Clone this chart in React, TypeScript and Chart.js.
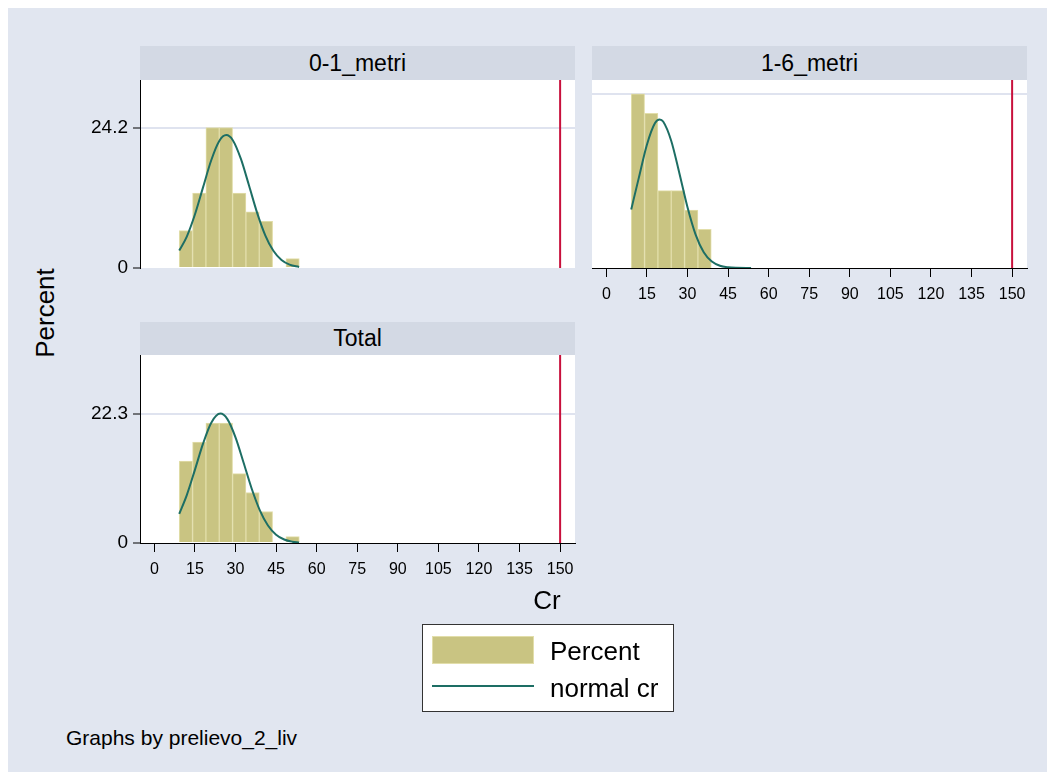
import React, { useEffect, useRef } from "react";
import { Chart, registerables } from "chart.js";

Chart.register(...registerables);

// ---------- data ----------
const binCenters = [11.67, 16.6, 21.53, 26.46, 31.39, 36.32, 41.25, 46.18, 51.11];
const pct01: (number | null)[] = [6.45, 12.9, 24.19, 24.19, 12.9, 9.68, 8.06, null, 1.61];
const pct16: (number | null)[] = [30.0, 26.67, 13.33, 13.33, 10.0, 6.67, null, null, null];
const pctTotal: (number | null)[] = [14.13, 17.39, 20.65, 20.65, 11.96, 8.7, 5.43, null, 1.09];

const curveX01 = [9.2, 12, 15, 18, 21, 24, 26.6, 29, 32, 35, 38, 41, 44, 47, 50, 53.5];
const curveY01 = [3.0, 5.42, 9.22, 13.89, 18.52, 21.88, 22.9, 22.03, 18.8, 14.21, 9.51, 5.64, 2.96, 1.37, 0.57, 0.17];

const curveX16 = [9.2, 12, 15, 18, 19.7, 21, 24, 27, 30, 33, 36, 39, 42, 45, 48, 53.5];
const curveY16 = [10.1, 15.53, 21.25, 24.98, 25.6, 25.24, 21.9, 16.33, 10.47, 5.76, 2.72, 1.11, 0.39, 0.12, 0.03, 0.0];

const curveXTotal = [9.2, 12, 15, 18, 21, 24.4, 27, 30, 33, 36, 39, 42, 45, 48, 51, 53.5];
const curveYTotal = [5.02, 8.26, 12.61, 17.12, 20.7, 22.3, 21.35, 18.21, 13.83, 9.35, 5.63, 3.02, 1.44, 0.61, 0.23, 0.09];

const xTickValues = [0, 15, 30, 45, 60, 75, 90, 105, 120, 135, 150];
const yTicks01 = [0, 24.2];
const yTicks16 = [30];
const yTicksTotal = [0, 22.3];
const refLineX = 150;
const yMax = 32.4;
const xMin = -5.3;
const xMax = 155.5;

const panelTitles = ["0-1_metri", "1-6_metri", "Total"];
const legendLabels = ["Percent", "normal cr"];
const yTitle = "Percent";
const xTitle = "Cr";
const note = "Graphs by prelievo_2_liv";

// ---------- style ----------
const FONT = "'Liberation Sans', Arial, Helvetica, sans-serif";
const BG = "#e1e6f0";
const STRIP = "#d3d9e4";
const GRID = "#dfe3ef";
const KHAKI = "#c9c482";
const KHAKI_EDGE = "#e2deaa";
const TEAL = "#1d6e64";
const RED = "#c8103c";

Chart.defaults.font.family = FONT;

const plotBg = {
  id: "plotBg",
  beforeDraw(chart: any) {
    const { ctx, chartArea: a } = chart;
    ctx.save();
    ctx.fillStyle = "#ffffff";
    ctx.fillRect(a.left, a.top, a.right - a.left, a.bottom - a.top);
    ctx.restore();
  },
};

type PanelProps = {
  left: number;
  top: number;
  width: number;
  height: number;
  padding: { top: number; right: number; bottom: number; left: number };
  yAxisWidth: number;
  showX: boolean;
  showYLabels: boolean;
  showYBorder: boolean;
  yTicks: number[];
  bars: (number | null)[];
  cx: number[];
  cy: number[];
};

function HistPanel(p: PanelProps) {
  const ref = useRef<HTMLCanvasElement>(null);
  useEffect(() => {
    const chart = new Chart(ref.current as HTMLCanvasElement, {
      type: "bar",
      data: {
        datasets: [
          {
            type: "line",
            label: legendLabels[1],
            data: p.cx.map((x, i) => ({ x, y: p.cy[i] })),
            borderColor: TEAL,
            borderWidth: 2,
            pointRadius: 0,
            cubicInterpolationMode: "monotone",
            fill: false,
            order: 0,
          } as any,
          {
            type: "line",
            label: "xline",
            data: [
              { x: refLineX, y: 0 },
              { x: refLineX, y: yMax },
            ],
            borderColor: RED,
            borderWidth: 2,
            pointRadius: 0,
            fill: false,
            order: 1,
          } as any,
          {
            type: "bar",
            label: legendLabels[0],
            data: binCenters.map((x, i) => ({ x, y: p.bars[i] })),
            backgroundColor: KHAKI,
            borderColor: KHAKI_EDGE,
            borderWidth: 1,
            barPercentage: 1,
            categoryPercentage: 1,
            order: 2,
          } as any,
        ],
      },
      options: {
        animation: false,
        responsive: false,
        maintainAspectRatio: false,
        layout: { padding: p.padding },
        plugins: { legend: { display: false }, tooltip: { enabled: false } },
        scales: {
          x: {
            type: "linear",
            min: xMin,
            max: xMax,
            offset: false,
            display: p.showX,
            afterBuildTicks: (s: any) => {
              s.ticks = xTickValues.map((v) => ({ value: v }));
            },
            ticks: {
              font: { size: 16 },
              color: "#000",
              padding: 8,
              maxRotation: 0,
              autoSkip: false,
              callback: (v: any) => String(v),
            },
            grid: {
              offset: false,
              drawOnChartArea: false,
              drawTicks: true,
              tickLength: 9,
              tickColor: "#000",
              tickWidth: 1,
            },
            border: { display: true, color: "#000", width: 1 },
            afterFit: (s: any) => {
              s.height = p.showX ? 40 : 0;
            },
          },
          y: {
            type: "linear",
            min: 0,
            max: yMax,
            afterBuildTicks: (s: any) => {
              s.ticks = p.yTicks.map((v) => ({ value: v }));
            },
            ticks: {
              display: p.showYLabels,
              font: { size: 19 },
              color: "#000",
              padding: 5,
              callback: (v: any) => String(v),
            },
            grid: {
              color: (ctx: any) =>
                ctx.tick && ctx.tick.value === 0 ? "rgba(0,0,0,0)" : GRID,
              lineWidth: 2,
              drawTicks: p.showYLabels,
              tickLength: 7,
              tickColor: "#000",
              tickWidth: 1,
            },
            border: { display: p.showYBorder, color: "#000", width: 1 },
            afterFit: (s: any) => {
              s.width = p.yAxisWidth;
            },
          },
        },
      } as any,
      plugins: [plotBg],
    });
    return () => chart.destroy();
  }, []);
  return (
    <canvas
      ref={ref}
      width={p.width}
      height={p.height}
      style={{
        position: "absolute",
        left: p.left,
        top: p.top,
        width: p.width,
        height: p.height,
      }}
    />
  );
}

function Strip({ x, y, w, h, text }: { x: number; y: number; w: number; h: number; text: string }) {
  return (
    <div
      style={{
        position: "absolute",
        left: x,
        top: y,
        width: w,
        height: h,
        background: STRIP,
        display: "flex",
        alignItems: "center",
        justifyContent: "center",
        fontSize: 23,
        color: "#000",
      }}
    >
      {text}
    </div>
  );
}

function Label({ x, y, text, size, rotate }: { x: number; y: number; text: string; size: number; rotate?: boolean }) {
  return (
    <div
      style={{
        position: "absolute",
        left: x,
        top: y,
        transform: `translate(-50%, -50%)${rotate ? " rotate(-90deg)" : ""}`,
        fontSize: size,
        whiteSpace: "nowrap",
        lineHeight: 1,
        color: "#000",
      }}
    >
      {text}
    </div>
  );
}

export default function App() {
  return (
    <div
      style={{
        position: "relative",
        width: 1047,
        height: 764,
        background: BG,
        overflow: "hidden",
        fontFamily: FONT,
      }}
    >
      <div style={{ position: "absolute", left: -8, top: -8, width: 1055, height: 772 }}>
        <Strip x={140} y={46} w={435} h={34} text={panelTitles[0]} />
        <Strip x={592} y={46} w={435} h={34} text={panelTitles[1]} />
        <Strip x={140} y={322} w={435} h={33} text={panelTitles[2]} />

        <HistPanel
          left={60}
          top={60}
          width={535}
          height={228}
          padding={{ top: 20, right: 20, bottom: 20, left: 0 }}
          yAxisWidth={80}
          showX={false}
          showYLabels={true}
          showYBorder={true}
          yTicks={yTicks01}
          bars={pct01}
          cx={curveX01}
          cy={curveY01}
        />
        <HistPanel
          left={572}
          top={60}
          width={475}
          height={258}
          padding={{ top: 20, right: 20, bottom: 10, left: 20 }}
          yAxisWidth={0}
          showX={true}
          showYLabels={false}
          showYBorder={false}
          yTicks={yTicks16}
          bars={pct16}
          cx={curveX16}
          cy={curveY16}
        />
        <HistPanel
          left={60}
          top={335}
          width={535}
          height={258}
          padding={{ top: 20, right: 20, bottom: 10, left: 0 }}
          yAxisWidth={80}
          showX={true}
          showYLabels={true}
          showYBorder={true}
          yTicks={yTicksTotal}
          bars={pctTotal}
          cx={curveXTotal}
          cy={curveYTotal}
        />

        <Label x={45} y={313} text={yTitle} size={26} rotate />
        <Label x={547} y={600} text={xTitle} size={26} />

        <div
          style={{
            position: "absolute",
            left: 422,
            top: 624,
            width: 252,
            height: 88,
            boxSizing: "border-box",
            background: "#fff",
            border: "1px solid #333",
          }}
        />
        <div
          style={{
            position: "absolute",
            left: 432,
            top: 636,
            width: 102,
            height: 28,
            boxSizing: "border-box",
            background: KHAKI,
            border: `1.5px solid ${KHAKI_EDGE}`,
          }}
        />
        <div
          style={{
            position: "absolute",
            left: 432,
            top: 685,
            width: 102,
            height: 2,
            background: TEAL,
          }}
        />
        <div style={{ position: "absolute", left: 550, top: 651, transform: "translateY(-50%)", fontSize: 26, lineHeight: 1, whiteSpace: "nowrap" }}>
          {legendLabels[0]}
        </div>
        <div style={{ position: "absolute", left: 550, top: 688, transform: "translateY(-50%)", fontSize: 26, lineHeight: 1, whiteSpace: "nowrap" }}>
          {legendLabels[1]}
        </div>
        <div style={{ position: "absolute", left: 66, top: 737, transform: "translateY(-50%)", fontSize: 21, lineHeight: 1, whiteSpace: "nowrap" }}>
          {note}
        </div>
      </div>
    </div>
  );
}
